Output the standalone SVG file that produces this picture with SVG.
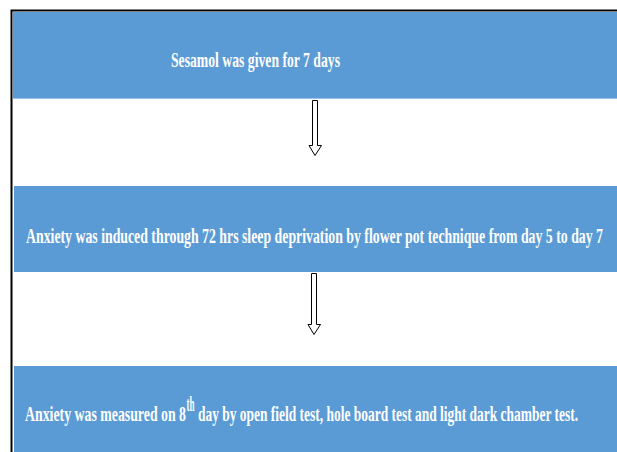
<svg xmlns="http://www.w3.org/2000/svg" width="617" height="452" viewBox="0 0 617 452">
<style>
.box{fill:#5B9BD5;}
.sep{stroke:#9DC3E6;stroke-width:1;}
.t{font-family:"Liberation Serif","Times New Roman",serif;font-weight:bold;font-size:22px;fill:#FFFFFF;}
.arrow{fill:#FFFFFF;stroke:#000000;stroke-width:1;}
</style>
<rect x="0" y="0" width="617" height="452" fill="#FFFFFF"/>
<path d="M11.5 452 V10.5 H617" fill="none" stroke="#000000" stroke-width="2"/>
<g id="node1">
<rect class="box" x="13" y="12" width="604" height="86"/>
<line class="sep" x1="13" y1="98.5" x2="617" y2="98.5"/>
<text class="t" x="171" y="67" textLength="169" lengthAdjust="spacingAndGlyphs">Sesamol was given for 7 days</text>
</g>
<g id="node2">
<rect class="box" x="14" y="186" width="603" height="86"/>
<text class="t" x="26" y="243" textLength="577" lengthAdjust="spacingAndGlyphs">Anxiety was induced through 72 hrs sleep deprivation by flower pot technique from day 5 to day 7</text>
</g>
<g id="node3">
<rect class="box" x="14" y="366" width="603" height="86"/>
<text class="t" x="25" y="421" textLength="161" lengthAdjust="spacingAndGlyphs">Anxiety was measured on 8</text>
<text class="t" x="186.5" y="411" font-size="12" textLength="8" lengthAdjust="spacingAndGlyphs">th</text>
<text class="t" x="198" y="421" textLength="380" lengthAdjust="spacingAndGlyphs">day by open field test, hole board test and light dark chamber test.</text>
</g>
<g id="connectors">
<path class="arrow" d="M312.5 100.5 H317.5 V145.5 H321.5 L315 155.5 L309 145.5 H312.5 Z"/>
<path class="arrow" d="M311.5 273.5 H316.5 V324.5 H320.5 L314 334.5 L308 324.5 H311.5 Z"/>
</g>
</svg>
